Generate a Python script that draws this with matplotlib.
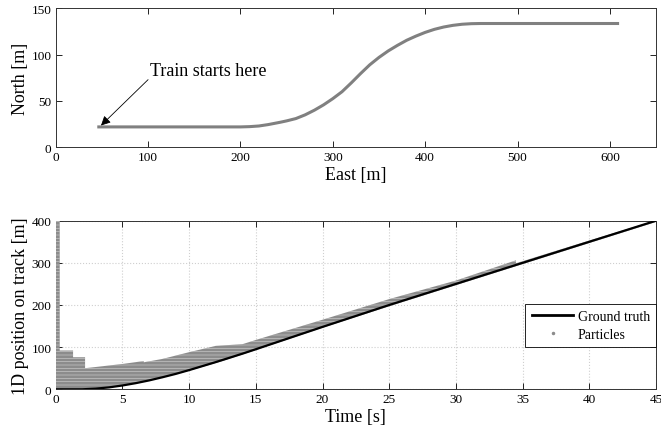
import numpy as np
import matplotlib
matplotlib.use('Agg')
import matplotlib.pyplot as plt
from matplotlib.lines import Line2D

plt.rcParams['font.family'] = ['Liberation Serif', 'DejaVu Serif']
plt.rcParams['hatch.linewidth'] = 0.35

# track layout (top panel)
east = [45, 200, 210, 220, 230, 243, 250, 260, 270, 280, 290, 300, 310, 320, 330,
        340, 350, 360, 370, 380, 390, 400, 410, 420, 430, 440, 450, 460, 610]
north = [22, 22, 22.3, 23, 24.5, 27, 28.5, 31, 35, 40, 45.8, 52.5, 60, 69.5, 79.5,
         89, 97, 104, 110, 115.5, 120, 124, 127.3, 129.8, 131.6, 132.8, 133.4, 133.6, 133.6]

# ground truth 1D position (bottom panel)
gt_time = [0, 2, 3, 4, 5, 6, 7, 8, 9, 10, 11, 12, 13, 14, 15, 20, 25, 30, 35, 40, 45]
gt_pos = [0, 0, 1.5, 4.5, 9, 14.5, 21, 28.5, 36.5, 45.5, 55, 64.5, 74.5, 84.5, 95,
          148, 200, 250, 300, 350, 400]

# particle cloud envelope, upper edge (left to right) and lower edge (right to left)
up_time = [0, 0.3, 0.3, 1.3, 1.3, 2.2, 2.2, 5.0, 6.6, 6.6, 8, 10, 12, 14, 15, 20, 25, 30, 34.5, 34.5, 40, 45]
up_pos = [400, 400, 92, 92, 76, 76, 50, 60, 67, 64, 72, 88, 103, 107, 117, 165, 214, 258, 306, 299, 353, 401]
lo_time = [45, 40, 35, 30, 25, 20, 15, 12.5, 10, 7.5, 5, 2.5, 2.2, 0]
lo_pos = [397, 347, 297, 247, 197, 146, 93, 67, 44, 24, 8, 0, 0, 0]

fig = plt.figure(figsize=(6.61, 4.39), dpi=100)
ax1 = fig.add_axes([0.0843, 0.6622, 0.9082, 0.3166])
ax2 = fig.add_axes([0.0843, 0.1110, 0.9082, 0.3840])

# top: track
ax1.plot(east, north, color='#808080', lw=2.2, solid_capstyle='butt')
ax1.set_xlim(0, 650)
ax1.set_ylim(0, 150)
ax1.set_xticks([0, 100, 200, 300, 400, 500, 600])
ax1.set_yticks([0, 50, 100, 150])
ax1.set_xlabel('East [m]', fontsize=13, labelpad=2)
ax1.set_ylabel('North [m]', fontsize=13, labelpad=2)
ax1.text(102, 78, 'Train starts here', fontsize=13, va='baseline', ha='left')
ax1.annotate('', xy=(49, 23.5), xytext=(100, 73),
             arrowprops=dict(arrowstyle='-|>', color='k', lw=0.6,
                             mutation_scale=14, shrinkA=0, shrinkB=0))

# bottom: particles and ground truth
poly_t = up_time + lo_time
poly_p = up_pos + lo_pos
ax2.fill(poly_t, poly_p, facecolor='#8c8c8c', edgecolor='#dcdcdc', lw=0,
         hatch='-----', zorder=3)
ax2.plot(gt_time, gt_pos, color='k', lw=1.6, zorder=4)
ax2.set_xlim(0, 45)
ax2.set_ylim(0, 400)
ax2.set_xticks(range(0, 46, 5))
ax2.set_yticks([0, 100, 200, 300, 400])
ax2.grid(True, color='#cfcfcf', linestyle=':', lw=0.8)
ax2.set_axisbelow(True)
ax2.set_xlabel('Time [s]', fontsize=13, labelpad=2)
ax2.set_ylabel('1D position on track [m]', fontsize=13, labelpad=2)

handles = [Line2D([], [], color='k', lw=2),
           Line2D([], [], color='#8c8c8c', marker='.', ms=3, linestyle='none')]
leg = ax2.legend(handles, ['Ground truth', 'Particles'], loc='upper right',
                 bbox_to_anchor=(1.0, 0.506), borderaxespad=0, fancybox=False,
                 framealpha=1, edgecolor='k', fontsize=10, handlelength=3.0,
                 handletextpad=0.3, borderpad=0.45, labelspacing=0.35)
leg.get_frame().set_linewidth(0.6)
leg.set_zorder(5)

for ax in (ax1, ax2):
    ax.tick_params(direction='in', top=True, right=True, labelsize=9.5,
                   length=4, width=0.6, pad=3)
    for s in ax.spines.values():
        s.set_linewidth(0.7)
        s.set_color('#333333')

fig.savefig('out.png', dpi=100)
